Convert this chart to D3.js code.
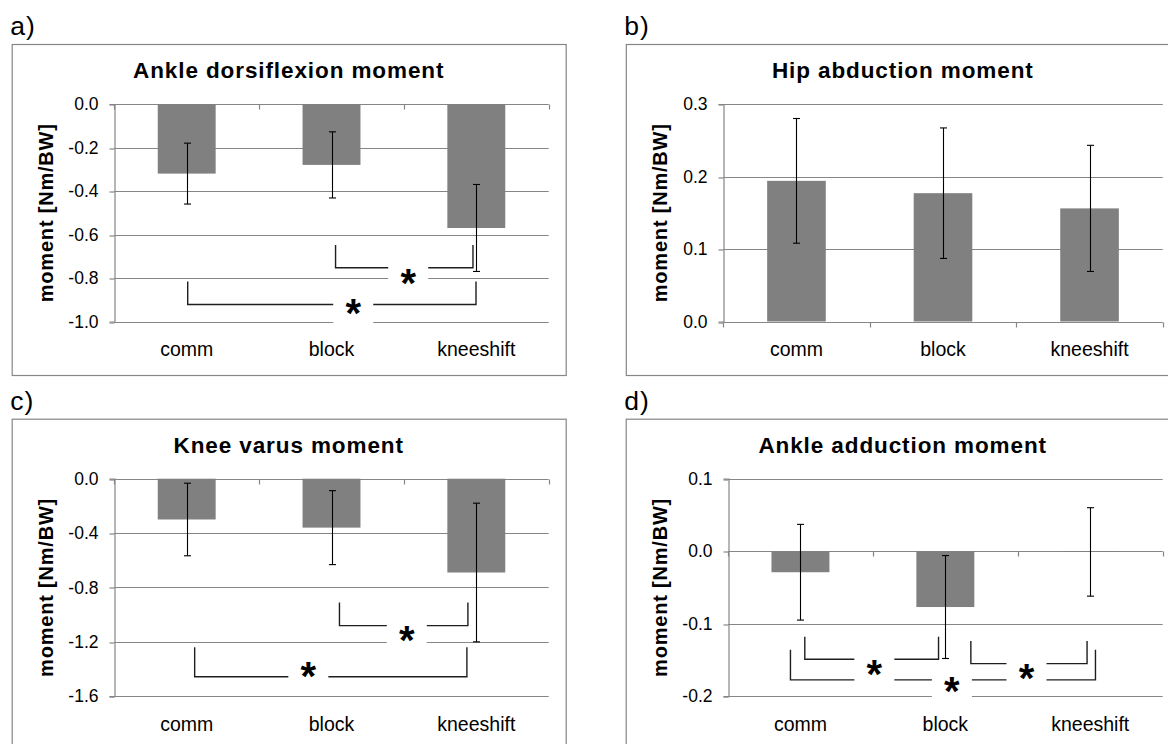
<!DOCTYPE html>
<html>
<head>
<meta charset="utf-8">
<script src="https://cdn.jsdelivr.net/npm/d3@7"></script>
<style>
  html, body { margin: 0; padding: 0; background: #fff; }
  svg { display: block; font-family: Arial, "Liberation Sans", Helvetica, sans-serif; }
</style>
</head>
<body>
<svg id="fig" width="1168" height="744"></svg>
<script>
// ---- data -------------------------------------------------------------
const categories = ["comm", "block", "kneeshift"];

const ankleDorsiflexionMean = [-0.32, -0.28, -0.57];
const ankleDorsiflexionSD   = [0.14, 0.152, 0.20];
const ankleDorsiflexionTicks = [0.0, -0.2, -0.4, -0.6, -0.8, -1.0];

const hipAbductionMean = [0.194, 0.177, 0.156];
const hipAbductionSD   = [0.086, 0.090, 0.087];
const hipAbductionTicks = [0.0, 0.1, 0.2, 0.3];

const kneeVarusMean = [-0.30, -0.36, -0.69];
const kneeVarusSD   = [0.267, 0.272, 0.51];
const kneeVarusTicks = [0.0, -0.4, -0.8, -1.2, -1.6];

const ankleAdductionMean = [-0.029, -0.077, -0.001];
const ankleAdductionSD   = [0.066, 0.071, 0.061];
const ankleAdductionTicks = [0.1, 0.0, -0.1, -0.2];

// significance brackets: ends in category units (0..3 across the axis), heights in moment units
const ankleDorsiflexionSig = [
  { x0: 1.528, x1: 2.477, y: -0.753, yTop: -0.648, starX: 2.03, starY: -0.785 },
  { x0: 0.507, x1: 2.498, y: -0.922, yTop: -0.816, starX: 1.65, starY: -0.926 }
];
const hipAbductionSig = [];
const kneeVarusSig = [
  { x0: 1.555, x1: 2.442, y: -1.081, yTop: -0.91, starX: 2.02, starY: -1.127 },
  { x0: 0.555, x1: 2.435, y: -1.457, yTop: -1.24, starX: 1.34, starY: -1.391 }
];
const ankleAdductionSig = [
  { x0: 0.530, x1: 1.453, y: -0.149, yTop: -0.118, starX: 1.01, starY: -0.159 },
  { x0: 0.431, x1: 2.536, y: -0.1775, yTop: -0.136, starX: 1.545, starY: -0.1816 },
  { x0: 1.676, x1: 2.478, y: -0.155, yTop: -0.124, starX: 2.06, starY: -0.164 }
];

// ---- panel definitions -------------------------------------------------
const panels = [
  { letter: "a)", title: "Ankle dorsiflexion moment", mean: ankleDorsiflexionMean, sd: ankleDorsiflexionSD,
    ticks: ankleDorsiflexionTicks, sig: ankleDorsiflexionSig, fx: 11.7, fy: 44, axisOff: 102.6 },
  { letter: "b)", title: "Hip abduction moment", mean: hipAbductionMean, sd: hipAbductionSD,
    ticks: hipAbductionTicks, sig: hipAbductionSig, fx: 625.8, fy: 44, axisOff: 97.4 },
  { letter: "c)", title: "Knee varus moment", mean: kneeVarusMean, sd: kneeVarusSD,
    ticks: kneeVarusTicks, sig: kneeVarusSig, fx: 11.7, fy: 418.7, axisOff: 102.6 },
  { letter: "d)", title: "Ankle adduction moment", mean: ankleAdductionMean, sd: ankleAdductionSD,
    ticks: ankleAdductionTicks, sig: ankleAdductionSig, fx: 625.7, fy: 418.7, axisOff: 102.3 }
];

const FRAME_W = 554, FRAME_H = 331;
const PLOT_RIGHT = 537, PLOT_TOP = 60, PLOT_BOTTOM = 277.5;
const GRID = "#868686", BAR = "#808080", INK = "#000";

const locale = d3.formatLocale({ decimal: ".", thousands: ",", grouping: [3], currency: ["", ""], minus: "-" });
const fmt = locale.format(".1f");

const svg = d3.select("#fig");

panels.forEach(p => {
  const g = svg.append("g");
  const left = p.fx + p.axisOff, right = p.fx + PLOT_RIGHT;
  const top = p.fy + PLOT_TOP, bottom = p.fy + PLOT_BOTTOM;

  const yMax = d3.max(p.ticks), yMin = d3.min(p.ticks);
  const y = d3.scaleLinear().domain([yMin, yMax]).range([bottom, top]);
  const x = d3.scaleBand().domain(categories).range([left, right]).paddingInner(0.6).paddingOuter(0.3);
  const xu = d3.scaleLinear().domain([0, categories.length]).range([left, right]);

  // chart frame
  g.append("rect").attr("x", p.fx + 0.5).attr("y", p.fy + 0.5)
    .attr("width", FRAME_W).attr("height", FRAME_H)
    .attr("fill", "#fff").attr("stroke", GRID).attr("stroke-width", 1.2);

  // panel letter
  g.append("text").attr("x", p.fx - 1.5).attr("y", p.fy - 9)
    .attr("font-size", 26.5).attr("letter-spacing", 1).attr("fill", INK).text(p.letter);

  // title
  g.append("text").attr("x", p.fx + FRAME_W / 2).attr("y", p.fy + 34)
    .attr("text-anchor", "middle").attr("font-size", 22.5).attr("font-weight", "bold")
    .attr("letter-spacing", 0.9).attr("fill", INK).text(p.title);

  // horizontal gridlines
  g.append("g").selectAll("line").data(p.ticks).join("line")
    .attr("x1", left).attr("x2", right)
    .attr("y1", d => Math.round(y(d)) + 0.5).attr("y2", d => Math.round(y(d)) + 0.5)
    .attr("stroke", GRID).attr("stroke-width", 1.2);

  // value axis with outward ticks
  const yAxis = g.append("g").attr("transform", `translate(${Math.round(left) + 0.5},0)`)
    .call(d3.axisLeft(y).tickValues(p.ticks).tickFormat(fmt).tickSize(5).tickPadding(11));
  yAxis.select(".domain").attr("stroke", GRID).attr("stroke-width", 1.2);
  yAxis.selectAll(".tick line").attr("stroke", GRID).attr("stroke-width", 1.2)
    .attr("transform", d => `translate(0,${Math.round(y(d)) + 0.5 - y(d)})`);
  yAxis.selectAll(".tick text").attr("font-size", 17.5)
    .attr("fill", INK).attr("font-family", null);
  yAxis.attr("font-family", null);

  // category axis sits on the zero line, ticks between categories hang below it
  const y0 = Math.round(y(0)) + 0.5;
  g.append("g").selectAll("line").data(d3.range(categories.length + 1)).join("line")
    .attr("x1", i => Math.round(xu(i)) + 0.5).attr("x2", i => Math.round(xu(i)) + 0.5)
    .attr("y1", y0).attr("y2", y0 + 5)
    .attr("stroke", GRID).attr("stroke-width", 1.2);

  // category labels
  g.append("g").selectAll("text").data(categories).join("text")
    .attr("x", d => x(d) + x.bandwidth() / 2).attr("y", bottom + 34.5)
    .attr("text-anchor", "middle").attr("font-size", 19.5)
    .attr("fill", INK).text(d => d);

  // value axis title
  g.append("text")
    .attr("transform", `translate(${p.fx + 41.5},${(top + bottom) / 2}) rotate(-90)`)
    .attr("text-anchor", "middle").attr("font-size", 20).attr("font-weight", "bold")
    .attr("letter-spacing", 0.8).attr("fill", INK).text("moment [Nm/BW]");

  // bars
  const rows = categories.map((c, i) => ({ c, m: p.mean[i], s: p.sd[i] }));
  g.append("g").selectAll("rect").data(rows).join("rect")
    .attr("x", d => x(d.c)).attr("width", x.bandwidth())
    .attr("y", d => Math.min(y(d.m), y(0))).attr("height", d => Math.abs(y(d.m) - y(0)))
    .attr("fill", BAR);

  // error bars (mean ± SD)
  const eb = g.append("g").attr("stroke", INK).attr("stroke-width", 1.1);
  rows.forEach(d => {
    const cx = Math.round(x(d.c) + x.bandwidth() / 2) + 0.5;
    const yHi = y(d.m + d.s), yLo = y(d.m - d.s);
    eb.append("line").attr("x1", cx).attr("x2", cx).attr("y1", yHi).attr("y2", yLo);
    eb.append("line").attr("x1", cx - 3.5).attr("x2", cx + 3.5).attr("y1", yHi).attr("y2", yHi);
    eb.append("line").attr("x1", cx - 3.5).attr("x2", cx + 3.5).attr("y1", yLo).attr("y2", yLo);
  });

  // significance brackets
  const br = g.append("g");
  p.sig.forEach(s => {
    br.append("path")
      .attr("d", `M${xu(s.x0)},${y(s.yTop)}V${y(s.y)}H${xu(s.x1)}V${y(s.yTop)}`)
      .attr("fill", "none").attr("stroke", "#1e1e1e").attr("stroke-width", 1.4);
  });
  p.sig.forEach(s => {
    const cx = xu(s.starX), cy = y(s.starY);
    br.append("rect").attr("x", cx - 20).attr("y", cy - 15).attr("width", 40).attr("height", 34)
      .attr("fill", "#fff");
    br.append("text").attr("x", cx).attr("y", cy + 0.55 * 40)
      .attr("text-anchor", "middle").attr("font-size", 40).attr("font-weight", "bold")
      .attr("fill", INK).text("*");
  });
});
</script>
</body>
</html>
